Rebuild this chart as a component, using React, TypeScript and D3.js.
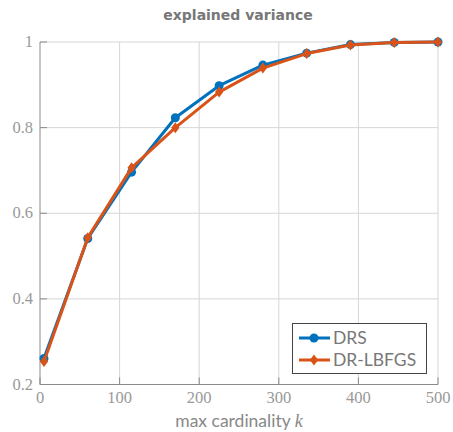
import React from "react";
import * as d3 from "d3";

const kValues = [5, 60, 115, 170, 225, 280, 335, 390, 445, 500];
const drsValues = [0.261, 0.541, 0.696, 0.823, 0.898, 0.946, 0.974, 0.994, 0.999, 1.0];
const lbfgsValues = [0.254, 0.543, 0.706, 0.8, 0.883, 0.939, 0.973, 0.993, 0.999, 1.0];
const xTicks = [0, 100, 200, 300, 400, 500];
const yTicks = [0.2, 0.4, 0.6, 0.8, 1];
const yTickLabels = ["0.2", "0.4", "0.6", "0.8", "1"];

const BLUE = "#0072BD";
const ORANGE = "#D95319";

export default function App() {
  const W = 453, H = 432;
  const left = 40, right = 438, top = 42, bottom = 384.5;
  const x = d3.scaleLinear().domain([0, 500]).range([left, right]);
  const y = d3.scaleLinear().domain([0.2, 1]).range([bottom, top]);
  const line = d3.line<number>().x((_, i) => x(kValues[i])).y((d) => y(d));
  const serif = "Liberation Serif, serif";
  const sans = "Lato, sans-serif";
  const diamond = (cx: number, cy: number, s: number) =>
    `M${cx},${cy - s}L${cx + s * 0.75},${cy}L${cx},${cy + s}L${cx - s * 0.75},${cy}Z`;

  return (
    <svg width={W} height={H} style={{ position: "absolute", left: 0, top: 0 }}>
      <rect width={W} height={H} fill="#fff" />
      <text x={238} y={20} textAnchor="middle" fontFamily="DejaVu Sans, sans-serif" fontWeight="bold" fontSize={14} fill="#777">
        explained variance
      </text>
      {/* grid */}
      {xTicks.filter((t) => t > 0).map((t) => (
        <line key={"gx" + t} x1={x(t)} x2={x(t)} y1={top} y2={bottom} stroke="#d6d6d6" strokeWidth={1} />
      ))}
      {yTicks.filter((t) => t > 0.2).map((t) => (
        <line key={"gy" + t} x1={left} x2={right} y1={y(t)} y2={y(t)} stroke="#d6d6d6" strokeWidth={1} />
      ))}
      {/* axes */}
      <line x1={left} x2={left} y1={top} y2={bottom} stroke="#8a8a8a" strokeWidth={1} />
      <line x1={left} x2={right} y1={bottom} y2={bottom} stroke="#8a8a8a" strokeWidth={1} />
      {yTicks.map((t, i) => (
        <g key={"yt" + t}>
          <line x1={left} x2={left + 7} y1={y(t)} y2={y(t)} stroke="#8a8a8a" />
          <text x={33} y={y(t) + 5} textAnchor="end" fontFamily={serif} fontSize={16.5} fill="#999">
            {yTickLabels[i]}
          </text>
        </g>
      ))}
      {xTicks.map((t) => (
        <g key={"xt" + t}>
          <line x1={x(t)} x2={x(t)} y1={bottom} y2={bottom - 7} stroke="#8a8a8a" />
          <text x={x(t)} y={403} textAnchor="middle" fontFamily={serif} fontSize={16.5} fill="#999">
            {t}
          </text>
        </g>
      ))}
      <text x={239} y={427} textAnchor="middle" fontFamily={sans} fontSize={17.5} fill="#888">
        max cardinality <tspan fontFamily={serif} fontStyle="italic" fontSize={18}>k</tspan>
      </text>
      {/* series */}
      <path d={line(drsValues) || ""} fill="none" stroke={BLUE} strokeWidth={3} strokeLinejoin="round" />
      {drsValues.map((v, i) => (
        <circle key={"c" + i} cx={x(kValues[i])} cy={y(v)} r={4.5} fill={BLUE} />
      ))}
      <path d={line(lbfgsValues) || ""} fill="none" stroke={ORANGE} strokeWidth={3} strokeLinejoin="round" />
      {lbfgsValues.map((v, i) => (
        <path key={"d" + i} d={diamond(x(kValues[i]), y(v), 5.5)} fill={ORANGE} />
      ))}
      {/* legend */}
      <rect x={292.5} y={323.5} width={134} height={50} fill="#fff" stroke="#444" strokeWidth={1} />
      <line x1={299} x2={330} y1={338} y2={338} stroke={BLUE} strokeWidth={3} />
      <circle cx={314} cy={338} r={4.5} fill={BLUE} />
      <text x={333} y={344} fontFamily={sans} fontSize={17.5} fill="#777">DRS</text>
      <line x1={299} x2={330} y1={360} y2={360} stroke={ORANGE} strokeWidth={3} />
      <path d={diamond(314, 360, 5.5)} fill={ORANGE} />
      <text x={333} y={366} fontFamily={sans} fontSize={17.5} fill="#777">DR-LBFGS</text>
    </svg>
  );
}
